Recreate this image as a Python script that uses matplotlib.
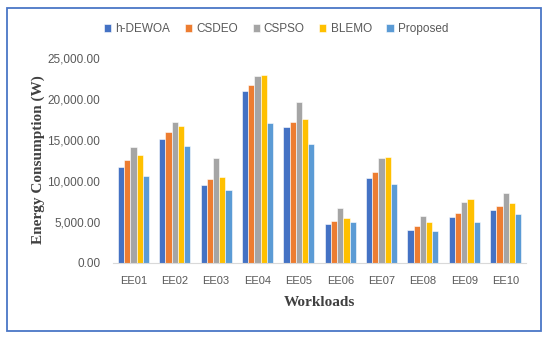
import numpy as np
import matplotlib.pyplot as plt
from matplotlib.patches import Rectangle

# Data
workloads = ["EE01", "EE02", "EE03", "EE04", "EE05", "EE06", "EE07", "EE08", "EE09", "EE10"]
methods = ["h-DEWOA", "CSDEO", "CSPSO", "BLEMO", "Proposed"]
h_dewoa = [11600, 15060, 9500, 20900, 16500, 4660, 10300, 3960, 5550, 6440]
csdeo = [12450, 15900, 10200, 21700, 17100, 5060, 11100, 4400, 6040, 6850]
cspso = [14100, 17200, 12750, 22700, 19550, 6700, 12750, 5670, 7380, 8500]
blemo = [13100, 16600, 10400, 22900, 17500, 5400, 12900, 4940, 7740, 7260]
proposed = [10500, 14200, 8850, 17000, 14450, 4940, 9600, 3840, 4940, 5900]
yticks = [0, 5000, 10000, 15000, 20000, 25000]

series = [h_dewoa, csdeo, cspso, blemo, proposed]
colors = ["#4472C4", "#ED7D31", "#A5A5A5", "#FFC000", "#5B9BD5"]

fig = plt.figure(figsize=(5.5, 3.37), dpi=100)
ax = fig.add_axes([0.205, 0.221, 0.752, 0.608])

x = np.arange(len(workloads))
w = 0.15
for i, (vals, c, name) in enumerate(zip(series, colors, methods)):
    ax.bar(x + (i - 2) * w, vals, width=w, color=c, edgecolor="white",
           linewidth=0.4, label=name)

ax.set_xlim(-0.5, len(workloads) - 0.5)
ax.set_ylim(0, 25000)
ax.set_yticks(yticks)
ax.set_yticklabels([f"{v:,.2f}" for v in yticks])
ax.set_xticks(x)
ax.set_xticklabels(workloads)
ax.tick_params(length=0, colors="#595959")
ax.tick_params(axis="x", labelsize=8, pad=10)
ax.tick_params(axis="y", labelsize=8.5, pad=9)
for lab in ax.get_xticklabels() + ax.get_yticklabels():
    lab.set_family("Liberation Sans")

for s in ["top", "right", "left"]:
    ax.spines[s].set_visible(False)
ax.spines["bottom"].set_color("#D9D9D9")

ax.set_ylabel("Energy Consumption (W)", family="Liberation Serif",
              fontweight="bold", fontsize=11, color="#404040", labelpad=2)
ax.set_xlabel("Workloads", family="Liberation Serif", fontweight="bold",
              fontsize=11, color="#404040", labelpad=7)

leg = fig.legend(loc="center", bbox_to_anchor=(0.502, 0.913), ncol=5,
                 frameon=False, handlelength=0.6, handleheight=0.6,
                 columnspacing=1.25, handletextpad=0.35,
                 prop={"family": "Liberation Sans", "size": 8.5})
for t in leg.get_texts():
    t.set_color("#595959")

# outer frame
fig.patches.append(Rectangle((0.012, 0.017), 0.972, 0.96, transform=fig.transFigure,
                             fill=False, edgecolor="#4a76c6", linewidth=1.3))

fig.savefig("out.png", dpi=100)
